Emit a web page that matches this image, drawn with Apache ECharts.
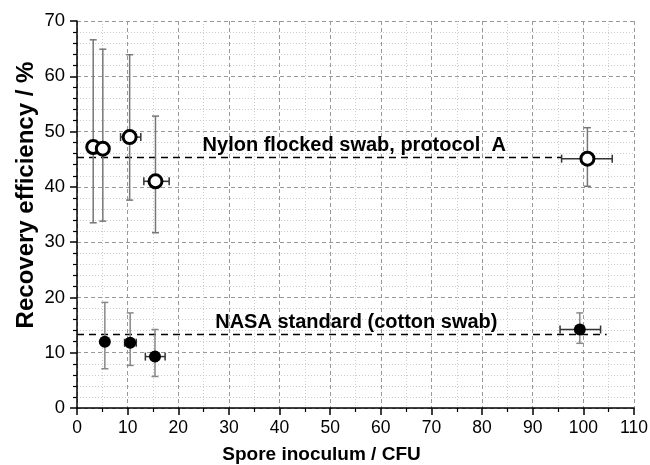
<!DOCTYPE html>
<html>
<head>
<meta charset="utf-8">
<script src="https://cdn.jsdelivr.net/npm/echarts@6/dist/echarts.min.js"></script>
<style>
  html, body { margin: 0; padding: 0; background: #fff; }
  #chart { width: 650px; height: 465px; }
</style>
</head>
<body>
<div id="chart"></div>
<script>
// nylon flocked swab, protocol A (open circles)
const nylonX = [3.2, 5.1, 10.4, 15.5, 100.8];
const nylonY = [47.2, 46.9, 49.0, 41.0, 45.1];
const nylonYLow = [33.5, 33.8, 37.6, 31.7, 40.1];
const nylonYHigh = [66.6, 64.9, 63.9, 52.8, 50.7];
const nylonXLow = [3.2, 5.1, 8.6, 13.2, 95.7];
const nylonXHigh = [3.2, 5.1, 12.6, 18.2, 105.7];

// NASA standard, cotton swab (filled circles)
const nasaX = [5.5, 10.5, 15.4, 99.3];
const nasaY = [12.0, 11.8, 9.3, 14.2];
const nasaYLow = [7.1, 7.7, 5.7, 11.7];
const nasaYHigh = [19.1, 17.2, 14.2, 17.2];
const nasaXLow = [5.5, 9.4, 13.5, 95.4];
const nasaXHigh = [5.5, 11.7, 17.4, 103.4];

// mean lines
const nylonMean = 45.3;
const nylonMeanX = [0, 95.7];
const nasaMean = 13.3;
const nasaMeanX = [0, 104.6];

// text annotations
const nylonLabel = 'Nylon flocked swab, protocol  A';
const nylonLabelAt = [24.8, 47.4];
const nasaLabel = 'NASA standard (cotton swab)';
const nasaLabelAt = [27.3, 15.4];

const xTicks = [0, 10, 20, 30, 40, 50, 60, 70, 80, 90, 100, 110];
const yTicks = [0, 10, 20, 30, 40, 50, 60, 70];

const FONT = '"Liberation Sans", Arial, sans-serif';

function errRows(xs, ys, xl, xh, yl, yh) {
  return xs.map((x, i) => [x, ys[i], xl[i], xh[i], yl[i], yh[i]]);
}

function errRenderer(vColor, hColor) {
  return function (params, api) {
    const c = api.coord([api.value(0), api.value(1)]);
    const xl = api.coord([api.value(2), api.value(1)]);
    const xh = api.coord([api.value(3), api.value(1)]);
    const yl = api.coord([api.value(0), api.value(4)]);
    const yh = api.coord([api.value(0), api.value(5)]);
    const vs = { stroke: vColor, lineWidth: 1.5 };
    const hs = { stroke: hColor, lineWidth: 1.5 };
    const kids = [
      { type: 'line', shape: { x1: c[0], y1: yl[1], x2: c[0], y2: yh[1] }, style: vs },
      { type: 'line', shape: { x1: c[0] - 3.5, y1: yl[1], x2: c[0] + 3.5, y2: yl[1] }, style: vs },
      { type: 'line', shape: { x1: c[0] - 3.5, y1: yh[1], x2: c[0] + 3.5, y2: yh[1] }, style: vs }
    ];
    if (xh[0] - xl[0] > 1) {
      kids.push(
        { type: 'line', shape: { x1: xl[0], y1: c[1], x2: xh[0], y2: c[1] }, style: hs },
        { type: 'line', shape: { x1: xl[0], y1: c[1] - 4, x2: xl[0], y2: c[1] + 4 }, style: hs },
        { type: 'line', shape: { x1: xh[0], y1: c[1] - 4, x2: xh[0], y2: c[1] + 4 }, style: hs }
      );
    }
    return { type: 'group', children: kids };
  };
}

const chart = echarts.init(document.getElementById('chart'));

const option = {
  animation: false,
  backgroundColor: '#fff',
  grid: { left: 77, right: 16, top: 21, bottom: 57, outerBoundsMode: 'none', containLabel: false },
  xAxis: {
    type: 'value',
    min: xTicks[0],
    max: xTicks[xTicks.length - 1],
    interval: 10,
    name: 'Spore inoculum / CFU',
    nameLocation: 'middle',
    nameGap: 37,
    nameMoveOverlap: false,
    nameTextStyle: { fontFamily: FONT, fontSize: 19, fontWeight: 'bold', color: '#000', padding: [0, 68, 0, 0] },
    axisLine: { show: true, onZero: false, lineStyle: { color: '#000', width: 1.5 } },
    axisTick: { show: true, length: 7, lineStyle: { color: '#000', width: 1.5 } },
    minorTick: { show: true, splitNumber: 2, length: 4, lineStyle: { color: '#000', width: 1.2 } },
    axisLabel: { fontFamily: FONT, fontSize: 17.5, color: '#000', margin: 11 },
    splitLine: { show: true, lineStyle: { color: '#999', type: [4, 3], width: 1 } },
    minorSplitLine: { show: true, lineStyle: { color: '#ccc', type: [1, 2], width: 1 } }
  },
  yAxis: {
    type: 'value',
    min: yTicks[0],
    max: yTicks[yTicks.length - 1],
    interval: 10,
    name: 'Recovery efficiency / %',
    nameLocation: 'middle',
    nameGap: 39,
    nameRotate: 90,
    nameMoveOverlap: false,
    nameTextStyle: { fontFamily: FONT, fontSize: 24, fontWeight: 'bold', color: '#000', padding: [0, 0, 0, 39] },
    axisLine: { show: true, onZero: false, lineStyle: { color: '#000', width: 1.5 } },
    axisTick: { show: true, length: 7, lineStyle: { color: '#000', width: 1.5 } },
    minorTick: { show: true, splitNumber: 5, length: 4, lineStyle: { color: '#000', width: 1.2 } },
    axisLabel: { fontFamily: FONT, fontSize: 18.5, color: '#000', margin: 12 },
    splitLine: { show: true, lineStyle: { color: '#999', type: [4, 3], width: 1 } },
    minorSplitLine: { show: true, lineStyle: { color: '#ccc', type: [1, 2], width: 1 } }
  },
  series: [
    {
      name: 'nylon mean',
      type: 'line',
      data: nylonMeanX.map(x => [x, nylonMean]),
      symbol: 'none',
      lineStyle: { color: '#000', width: 1.5, type: [7, 5] },
      z: 2
    },
    {
      name: 'nasa mean',
      type: 'line',
      data: nasaMeanX.map(x => [x, nasaMean]),
      symbol: 'none',
      lineStyle: { color: '#000', width: 1.5, type: [7, 5] },
      z: 2
    },
    {
      name: 'nylon err',
      type: 'custom',
      renderItem: errRenderer('#777', '#333'),
      data: errRows(nylonX, nylonY, nylonXLow, nylonXHigh, nylonYLow, nylonYHigh),
      encode: { x: 0, y: 1 },
      z: 3
    },
    {
      name: 'nasa err',
      type: 'custom',
      renderItem: errRenderer('#888', '#333'),
      data: errRows(nasaX, nasaY, nasaXLow, nasaXHigh, nasaYLow, nasaYHigh),
      encode: { x: 0, y: 1 },
      z: 3
    },
    {
      name: 'Nylon flocked swab',
      type: 'scatter',
      data: nylonX.map((x, i) => [x, nylonY[i]]),
      symbol: 'circle',
      symbolSize: 13,
      itemStyle: { color: '#fff', borderColor: '#000', borderWidth: 3, opacity: 1 },
      z: 5
    },
    {
      name: 'NASA standard',
      type: 'scatter',
      data: nasaX.map((x, i) => [x, nasaY[i]]),
      symbol: 'circle',
      symbolSize: 12,
      itemStyle: { color: '#000', opacity: 1 },
      z: 5
    },
    {
      name: 'labels',
      type: 'scatter',
      symbolSize: 0,
      silent: true,
      itemStyle: { opacity: 1 },
      data: [
        { value: nylonLabelAt, label: { formatter: nylonLabel } },
        { value: nasaLabelAt, label: { formatter: nasaLabel } }
      ],
      label: {
        show: true,
        position: [0, 0],
        align: 'left',
        verticalAlign: 'middle',
        fontFamily: FONT,
        fontSize: 20,
        fontWeight: 'bold',
        color: '#000'
      },
      z: 6
    }
  ]
};

chart.setOption(option);
</script>
</body>
</html>
